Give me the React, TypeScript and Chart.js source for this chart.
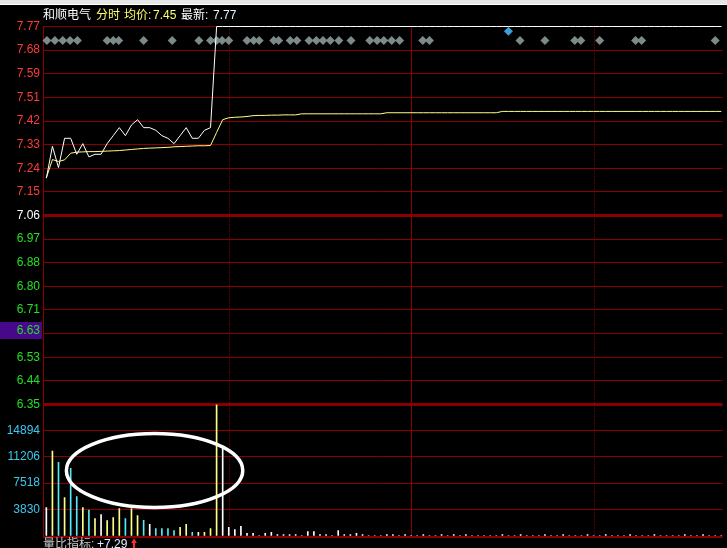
import React, { useEffect, useRef } from 'react';
import { Chart, registerables } from 'chart.js';

Chart.register(...registerables);

// ---------- text ----------
const stockName = '和顺电气';
const modeLabel = '分时';
const avgLabel = '均价:';
const avgValueText = '7.45';
const lastLabel = '最新:';
const lastValueText = '7.77';
const ratioLabel = '量比指标:';
const ratioValueText = '+7.29';

// ---------- axes ----------
const priceTickLabels = ['6.35', '6.44', '6.53', '6.63', '6.71', '6.80', '6.88', '6.97', '7.06', '7.15', '7.24', '7.33', '7.42', '7.51', '7.59', '7.68', '7.77'];
const priceMin = 6.35;
const priceMax = 7.77;
const prevCloseIndex = 8; // 7.06
const crosshairLabel = '6.63';
const volumeTickValues = [0, 3830, 7518, 11206, 14894];
const volumeMax = 18582;
const minuteMin = -0.55;
const minuteMax = 111.2;
const timeGridMinutes = [30, 60, 90]; // 10:00, 10:30, 11:00
const timeGridSolid = [false, true, false];

// ---------- series (one value per minute from 9:30) ----------
const prices = [
  7.20, 7.32, 7.24, 7.35, 7.35, 7.29, 7.33, 7.28, 7.29, 7.29, 7.33, 7.36,
  7.39, 7.36, 7.40, 7.42, 7.39, 7.39, 7.38, 7.36, 7.35, 7.33, 7.36, 7.39,
  7.35, 7.35, 7.38, 7.39, 7.77, 7.77, 7.77, 7.77, 7.77, 7.77, 7.77, 7.77,
  7.77, 7.77, 7.77, 7.77, 7.77, 7.77, 7.77, 7.77, 7.77, 7.77, 7.77, 7.77,
  7.77, 7.77, 7.77, 7.77, 7.77, 7.77, 7.77, 7.77, 7.77, 7.77, 7.77, 7.77,
  7.77, 7.77, 7.77, 7.77, 7.77, 7.77, 7.77, 7.77, 7.77, 7.77, 7.77, 7.77,
  7.77, 7.77, 7.77, 7.77, 7.77, 7.77, 7.77, 7.77, 7.77, 7.77, 7.77, 7.77,
  7.77, 7.77, 7.77, 7.77, 7.77, 7.77, 7.77, 7.77, 7.77, 7.77, 7.77, 7.77,
  7.77, 7.77, 7.77, 7.77, 7.77, 7.77, 7.77, 7.77, 7.77, 7.77, 7.77, 7.77,
  7.77, 7.77, 7.77, 7.77,
];

const avgPrices = [
  7.202, 7.270, 7.263, 7.269, 7.294, 7.298, 7.299, 7.300, 7.300, 7.301, 7.302, 7.303,
  7.304, 7.306, 7.308, 7.310, 7.312, 7.313, 7.314, 7.315, 7.316, 7.318, 7.319, 7.320,
  7.321, 7.322, 7.322, 7.323, 7.372, 7.420, 7.427, 7.429, 7.430, 7.432, 7.435, 7.436,
  7.436, 7.437, 7.437, 7.438, 7.438, 7.438, 7.442, 7.442, 7.442, 7.442, 7.442, 7.442,
  7.442, 7.442, 7.442, 7.442, 7.442, 7.442, 7.442, 7.442, 7.446, 7.446, 7.446, 7.446,
  7.446, 7.446, 7.446, 7.446, 7.446, 7.446, 7.446, 7.446, 7.446, 7.446, 7.446, 7.446,
  7.446, 7.446, 7.446, 7.451, 7.451, 7.451, 7.451, 7.451, 7.451, 7.451, 7.451, 7.451,
  7.451, 7.451, 7.451, 7.451, 7.451, 7.451, 7.451, 7.451, 7.451, 7.451, 7.451, 7.451,
  7.451, 7.451, 7.451, 7.451, 7.451, 7.451, 7.451, 7.451, 7.451, 7.451, 7.451, 7.451,
  7.451, 7.451, 7.451, 7.451,
];

const volumes = [
  4070, 12010, 10450, 5490, 9600, 5630, 4070, 3730, 2510, 3080, 2230, 2650,
  3930, 2510, 3930, 2940, 2270, 1700, 1130, 1130, 1130, 850, 1280, 1700,
  570, 570, 570, 1130, 18582, 12750, 1280, 990, 1420, 430, 430, 140,
  430, 570, 280, 280, 280, 280, 140, 710, 710, 280, 280, 140,
  850, 280, 280, 430, 280, 140, 140, 140, 280, 280, 140, 280,
  140, 140, 280, 140, 140, 280, 140, 280, 140, 280, 140, 140,
  140, 140, 140, 280, 140, 140, 280, 140, 140, 140, 280, 140,
  140, 280, 140, 140, 140, 280, 140, 140, 280, 140, 140, 140,
  280, 140, 140, 140, 280, 140, 140, 140, 140, 280, 140, 140,
  280, 140, 140, 140,
];

// u = up (yellow), d = down (cyan), f = flat (white)
const volumeDirections = (
  'fududduduf' + 'uuuduudfdd' + 'dduudfuuuf' +
  'ffffffffffffffffffffffffffffff' +
  'ffffffffffffffffffffffffffffff' +
  'ffffffffffffffffffffff'
).split('');

// event markers (minute, price row)
const eventMinutes = [
  0.1, 1.4, 2.7, 3.9, 5.1, 10.0, 11.0, 11.9, 16.0, 20.7, 25.1, 27.0, 28.0, 28.9, 30.0,
  33.0, 34.1, 35.0, 37.4, 38.2, 40.1, 41.2, 43.2, 44.4, 45.5, 46.7, 48.1, 50.1,
  53.2, 54.4, 55.5, 56.8, 58.1, 61.9, 63.0, 77.9, 82.0, 86.9, 87.9, 91.0, 96.9, 97.9, 110.0,
];
const eventPrice = 7.717;
const specialEventMinutes = [76.0];
const specialEventPrice = 7.752;

// highlight ellipse on the volume panel (minute / volume units)
const highlightCenter = { minute: 17.8, volume: 9290 };
const highlightRadius = { minutes: 14.5, volume: 5210 };

const COLORS = {
  grid: '#8a0000',
  gridDot: '#a00000',
  up: '#ffff88',
  down: '#55e8f8',
  flat: '#ffffff',
  red: '#ff3a3a',
  green: '#22e022',
  cyan: '#3cc8f0',
  yellow: '#ffff66',
  diamond: '#7d8a8a',
  special: '#3aa0d8',
};

const NUM_FONT = "'Liberation Sans', Arial, 'Noto Sans CJK SC', sans-serif";

export default function App() {
  const ref = useRef<HTMLCanvasElement>(null);

  useEffect(() => {
    document.body.style.margin = '0';
    document.body.style.background = '#000';
    const canvas = ref.current!;
    const minutes = prices.map((_, i) => i);

    const bgPlugin = {
      id: 'bg',
      beforeDraw(chart: any) {
        const c = chart.ctx;
        c.save();
        c.fillStyle = '#000';
        c.fillRect(0, 0, chart.width, chart.height);
        // top toolbar remnant
        c.fillStyle = '#e6e6e6';
        c.fillRect(0, 0, chart.width, 4);
        c.fillStyle = '#ffffff';
        c.fillRect(0, 4, chart.width, 1);
        c.restore();
      },
    };

    const timeGridPlugin = {
      id: 'timeGrid',
      beforeDatasetsDraw(chart: any) {
        const c = chart.ctx;
        const xs = chart.scales.x;
        const { top, bottom } = chart.chartArea;
        c.save();
        timeGridMinutes.forEach((m, k) => {
          const x = Math.round(xs.getPixelForValue(m)) + 0.5;
          c.beginPath();
          c.lineWidth = 1;
          if (timeGridSolid[k]) {
            c.setLineDash([]);
            c.strokeStyle = COLORS.grid;
          } else {
            c.setLineDash([1, 2]);
            c.strokeStyle = COLORS.gridDot;
          }
          c.moveTo(x, top);
          c.lineTo(x, bottom);
          c.stroke();
        });
        c.restore();
      },
    };

    const overlayPlugin = {
      id: 'overlay',
      afterDraw(chart: any) {
        const c = chart.ctx;
        const xs = chart.scales.x;
        const yv = chart.scales.yVol;
        const yp = chart.scales.yPrice;
        c.save();

        // highlight ellipse
        const cx = xs.getPixelForValue(highlightCenter.minute);
        const cy = yv.getPixelForValue(highlightCenter.volume);
        const rx = xs.getPixelForValue(highlightCenter.minute + highlightRadius.minutes) - cx;
        const ry = cy - yv.getPixelForValue(highlightCenter.volume + highlightRadius.volume);
        c.beginPath();
        c.ellipse(cx, cy, rx, ry, 0, 0, Math.PI * 2);
        c.strokeStyle = '#ffffff';
        c.lineWidth = 3.5;
        c.stroke();

        // crosshair price label box
        const ci = priceTickLabels.indexOf(crosshairLabel);
        const ty = Math.round(yp.getPixelForValue(yp.ticks[ci].value)) - 4;
        c.fillStyle = '#48088c';
        c.fillRect(0, ty - 8, Math.round(chart.chartArea.left) - 1, 17);
        c.font = `12px ${NUM_FONT}`;
        c.textAlign = 'right';
        c.textBaseline = 'middle';
        c.fillStyle = COLORS.green;
        c.fillText(crosshairLabel, 40, ty + 0.5);

        // title
        c.textAlign = 'left';
        const titleParts: [string, string, number][] = [
          [stockName, '#ffffff', 43],
          [modeLabel, COLORS.yellow, 96],
          [avgLabel, COLORS.yellow, 124],
          [avgValueText, COLORS.yellow, 153],
          [lastLabel, '#ffffff', 181],
          [lastValueText, '#e4f0ff', 213],
        ];
        titleParts.forEach(([t, col, x]) => {
          c.fillStyle = col;
          c.fillText(t, x, 15.5);
        });

        // bottom indicator
        c.fillStyle = '#c8c8c8';
        c.fillText(ratioLabel, 43, 545);
        c.fillStyle = '#e4ecff';
        c.fillText(ratioValueText, 97, 545);
        // red up arrow
        c.fillStyle = '#ff2a2a';
        c.beginPath();
        c.moveTo(134, 538.5);
        c.lineTo(131, 543);
        c.lineTo(137, 543);
        c.closePath();
        c.fill();
        c.fillRect(133, 543, 2, 6);

        c.restore();
      },
    };

    const chart = new Chart(canvas, {
      type: 'line',
      data: {
        datasets: [
          {
            type: 'line',
            label: 'price',
            data: minutes.map((m, i) => ({ x: m, y: prices[i] })),
            yAxisID: 'yPrice',
            borderColor: '#ffffff',
            borderWidth: 1,
            pointRadius: 0,
            tension: 0,
            clip: 2,
          },
          {
            type: 'line',
            label: 'avg',
            data: minutes.map((m, i) => ({ x: m, y: avgPrices[i] })),
            yAxisID: 'yPrice',
            borderColor: '#ffff80',
            borderWidth: 1,
            pointRadius: 0,
            tension: 0,
          },
          {
            type: 'scatter',
            label: 'special',
            data: specialEventMinutes.map((m) => ({ x: m, y: specialEventPrice })),
            yAxisID: 'yPrice',
            pointStyle: 'rectRot',
            pointRadius: 4.5,
            backgroundColor: COLORS.special,
            borderColor: COLORS.special,
            borderWidth: 0,
            clip: false,
          },
          {
            type: 'scatter',
            label: 'events',
            data: eventMinutes.map((m) => ({ x: m, y: eventPrice })),
            yAxisID: 'yPrice',
            pointStyle: 'rectRot',
            pointRadius: 4.5,
            backgroundColor: COLORS.diamond,
            borderColor: COLORS.diamond,
            borderWidth: 0,
            clip: false,
          },
          {
            type: 'bar',
            label: 'volume',
            data: minutes.map((m, i) => ({ x: m, y: volumes[i] })),
            yAxisID: 'yVol',
            backgroundColor: volumeDirections.map((d) => (d === 'u' ? COLORS.up : d === 'd' ? COLORS.down : COLORS.flat)),
            barThickness: 1,
            borderWidth: 0,
          },
        ] as any,
      },
      options: {
        responsive: false,
        animation: false,
        devicePixelRatio: 1,
        events: [],
        layout: { padding: { top: 26.5, bottom: 11.5, left: 0, right: 0 } },
        plugins: {
          legend: { display: false },
          tooltip: { enabled: false },
          title: { display: false },
        },
        scales: {
          x: {
            type: 'linear',
            min: minuteMin,
            max: minuteMax,
            offset: false,
            display: false,
          },
          yVol: {
            type: 'linear',
            position: 'left',
            stack: 'panels',
            stackWeight: 132,
            min: 0,
            max: volumeMax,
            afterFit: (s: any) => { s.width = 43; },
            afterBuildTicks: (s: any) => { s.ticks = volumeTickValues.map((v) => ({ value: v })); },
            ticks: {
              autoSkip: false,
              padding: 3,
              color: COLORS.cyan,
              font: { family: NUM_FONT, size: 12 },
              callback: (v: any) => (v === 0 ? '' : String(v)),
            },
            grid: {
              drawTicks: false,
              color: COLORS.grid,
              lineWidth: (ctx: any) => (ctx.tick && ctx.tick.value === 0 ? 2 : 1),
            },
            border: { display: true, color: COLORS.grid, width: 1 },
          },
          yPrice: {
            type: 'linear',
            position: 'left',
            stack: 'panels',
            stackWeight: 378,
            min: priceMin,
            max: priceMax,
            afterFit: (s: any) => { s.width = 43; },
            afterBuildTicks: (s: any) => {
              s.ticks = priceTickLabels.map((_, k) => ({
                value: priceMin + (k * (priceMax - priceMin)) / (priceTickLabels.length - 1),
              }));
            },
            ticks: {
              autoSkip: false,
              padding: 3,
              font: { family: NUM_FONT, size: 12 },
              color: (ctx: any) => (ctx.index > prevCloseIndex ? COLORS.red : ctx.index === prevCloseIndex ? '#ffffff' : COLORS.green),
              callback: (_v: any, i: number) => (priceTickLabels[i] === crosshairLabel ? '' : priceTickLabels[i]),
            },
            grid: {
              drawTicks: false,
              color: COLORS.grid,
              lineWidth: (ctx: any) => (ctx.index === prevCloseIndex || ctx.index === 0 ? 3 : 1),
            },
            border: { display: true, color: COLORS.grid, width: 1 },
          },
        } as any,
      },
      plugins: [bgPlugin, timeGridPlugin, overlayPlugin],
    });

    return () => chart.destroy();
  }, []);

  return (
    <div style={{ width: 727, height: 548, position: 'relative', background: '#000' }}>
      <canvas ref={ref} width={727} height={548} style={{ display: 'block', width: 727, height: 548 }} />
    </div>
  );
}
